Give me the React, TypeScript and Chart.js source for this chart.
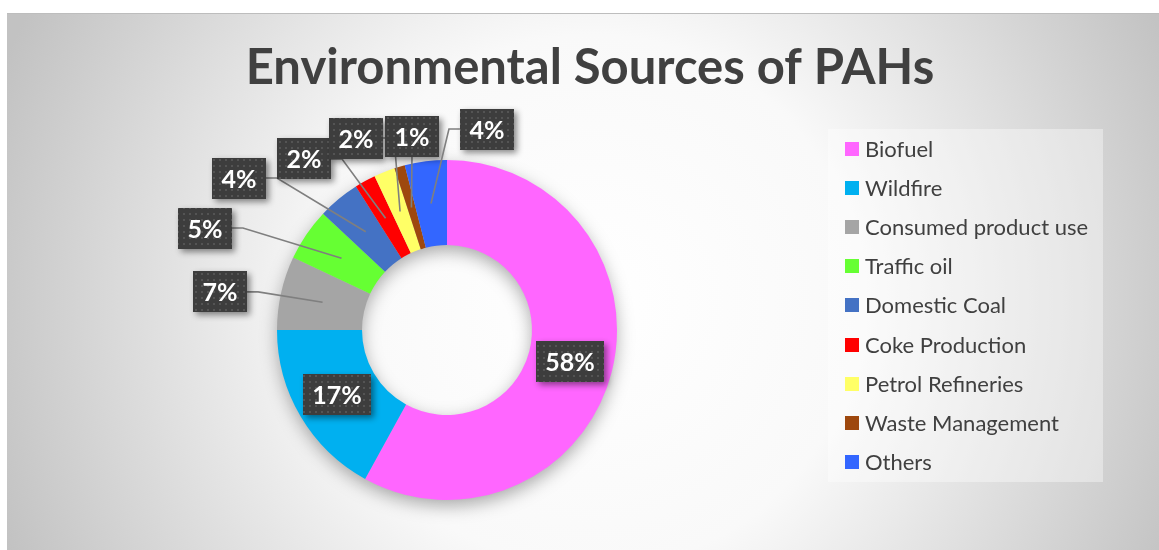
import React, { useEffect, useRef } from "react";
import { Chart, registerables } from "chart.js";

Chart.register(...registerables);

const chartTitle = "Environmental Sources of PAHs";
const categories = [
  "Biofuel",
  "Wildfire",
  "Consumed product use",
  "Traffic oil",
  "Domestic Coal",
  "Coke Production",
  "Petrol Refineries",
  "Waste Management",
  "Others",
];
const shares = [58, 17, 7, 5, 4, 2, 2, 1, 4];
const sliceColors = [
  "#FF66FF",
  "#00B0F0",
  "#A5A5A5",
  "#66FF33",
  "#4472C4",
  "#FF0000",
  "#FFFF66",
  "#9E480E",
  "#3366FF",
];
// label box centre relative to donut centre, in units of outer radius (null = inside the slice)
const labelPlacement: ([number, number] | null)[] = [
  null,
  null,
  [-1.335, -0.224],
  [-1.424, -0.6],
  [-1.224, -0.894],
  [-0.841, -1.006],
  [-0.535, -1.129],
  [-0.206, -1.141],
  [0.235, -1.182],
];

const W = 1152;
const H = 537;
const TEXT = "#404040";

function makePattern(ctx: CanvasRenderingContext2D) {
  const c = document.createElement("canvas");
  c.width = 6;
  c.height = 6;
  const p = c.getContext("2d")!;
  p.fillStyle = "#3d3d3d";
  p.fillRect(0, 0, 6, 6);
  p.fillStyle = "#545454";
  p.fillRect(2, 2, 2, 2);
  return ctx.createPattern(c, "repeat")!;
}

const backgroundPlugin = {
  id: "bg",
  beforeDraw(chart: any) {
    const ctx = chart.ctx as CanvasRenderingContext2D;
    const w = chart.width;
    const h = chart.height;
    ctx.save();
    const r = Math.hypot(w / 2, h / 2);
    const g = ctx.createRadialGradient(w / 2 + 10, h / 2 + 20, 0, w / 2 + 10, h / 2 + 20, r);
    g.addColorStop(0, "#ffffff");
    g.addColorStop(0.42, "#f9f9f9");
    g.addColorStop(1, "#c2c2c2");
    ctx.fillStyle = g;
    ctx.fillRect(0, 0, w, h);
    ctx.fillStyle = "#bdbdbd";
    ctx.fillRect(0, 0, w, 1);
    ctx.restore();
  },
};

const ringShadowPlugin = {
  id: "ringShadow",
  beforeDatasetsDraw(chart: any) {
    const meta = chart.getDatasetMeta(0);
    const el = meta.data[0];
    if (!el) return;
    const { x, y, innerRadius, outerRadius } = el.getProps(["x", "y", "innerRadius", "outerRadius"], true);
    const ctx = chart.ctx as CanvasRenderingContext2D;
    ctx.save();
    ctx.shadowColor = "rgba(0,0,0,0.35)";
    ctx.shadowBlur = 18;
    ctx.shadowOffsetY = 6;
    ctx.beginPath();
    ctx.arc(x, y, outerRadius - 1, 0, Math.PI * 2);
    ctx.moveTo(x + innerRadius + 1, y);
    ctx.arc(x, y, innerRadius + 1, 0, Math.PI * 2, true);
    ctx.fillStyle = "#bbbbbb";
    ctx.fill("evenodd");
    ctx.restore();
  },
};

const labelPlugin = {
  id: "sliceLabels",
  afterDatasetsDraw(chart: any) {
    const ctx = chart.ctx as CanvasRenderingContext2D;
    const meta = chart.getDatasetMeta(0);
    const values: number[] = chart.data.datasets[0].data;
    const total = values.reduce((a, b) => a + b, 0);
    const pattern = makePattern(ctx);
    meta.data.forEach((el: any, i: number) => {
      const { x, y, startAngle, endAngle, innerRadius, outerRadius } = el.getProps(
        ["x", "y", "startAngle", "endAngle", "innerRadius", "outerRadius"],
        true
      );
      const mid = (startAngle + endAngle) / 2;
      const rc = (innerRadius + outerRadius) / 2;
      const cx = x + Math.cos(mid) * rc;
      const cy = y + Math.sin(mid) * rc;
      const text = Math.round((values[i] / total) * 100) + "%";
      ctx.save();
      ctx.font = "bold 25px Lato";
      const tw = ctx.measureText(text).width;
      const bw = Math.round(tw + 19);
      const bh = 41;
      const p = labelPlacement[i];
      let bx = cx;
      let by = cy;
      if (p) {
        bx = x + p[0] * outerRadius;
        by = y + p[1] * outerRadius;
        const left = bx - bw / 2;
        const right = bx + bw / 2;
        ctx.strokeStyle = "#7f7f7f";
        ctx.lineWidth = 1.6;
        ctx.beginPath();
        if (cx < left) {
          ctx.moveTo(left, by);
          ctx.lineTo(left - 11, by);
        } else if (cx > right) {
          ctx.moveTo(right, by);
          ctx.lineTo(right + 11, by);
        } else {
          ctx.moveTo(bx, by + bh / 2);
        }
        ctx.lineTo(cx, cy);
        ctx.stroke();
      }
      const left = Math.round(bx - bw / 2);
      const top = Math.round(by - bh / 2);
      ctx.shadowColor = "rgba(0,0,0,0.45)";
      ctx.shadowBlur = 6;
      ctx.shadowOffsetX = 3;
      ctx.shadowOffsetY = 3;
      ctx.fillStyle = pattern;
      ctx.fillRect(left, top, bw, bh);
      ctx.shadowColor = "transparent";
      ctx.fillStyle = "#ffffff";
      ctx.textAlign = "center";
      ctx.textBaseline = "middle";
      ctx.fillText(text, left + bw / 2, top + bh / 2 + 1);
      ctx.restore();
    });
  },
};

const legendPlugin = {
  id: "customLegend",
  afterDraw(chart: any) {
    const ctx = chart.ctx as CanvasRenderingContext2D;
    const labels: string[] = chart.data.labels;
    const colors: string[] = chart.data.datasets[0].backgroundColor;
    const bx = 821;
    const by = 116;
    const bw = 275;
    const bh = 353;
    ctx.save();
    ctx.fillStyle = "rgba(255,255,255,0.38)";
    ctx.fillRect(bx, by, bw, bh);
    ctx.font = "22px Lato";
    ctx.textBaseline = "middle";
    ctx.textAlign = "left";
    labels.forEach((lab, i) => {
      const cy = 136 + i * 39.1;
      ctx.fillStyle = colors[i];
      ctx.fillRect(838, Math.round(cy - 7), 14, 14);
      ctx.fillStyle = TEXT;
      ctx.fillText(lab, 858, cy + 1);
    });
    ctx.restore();
  },
};

const titlePlugin = {
  id: "customTitle",
  afterDraw(chart: any) {
    const ctx = chart.ctx as CanvasRenderingContext2D;
    ctx.save();
    ctx.font = "bold 49px Lato";
    ctx.fillStyle = TEXT;
    ctx.textAlign = "center";
    ctx.textBaseline = "alphabetic";
    ctx.fillText(chartTitle, chart.width / 2 + 7, 71);
    ctx.restore();
  },
};

export default function App() {
  const ref = useRef<HTMLCanvasElement>(null);
  useEffect(() => {
    if (!ref.current) return;
    const chart = new Chart(ref.current, {
      type: "doughnut",
      data: {
        labels: categories,
        datasets: [
          {
            data: shares,
            backgroundColor: sliceColors,
            borderWidth: 0,
          },
        ],
      },
      options: {
        responsive: false,
        animation: false,
        cutout: "50%",
        events: [],
        layout: { padding: { left: 270, right: W - 610, top: 147, bottom: H - 487 } },
        plugins: {
          legend: { display: false },
          title: { display: false },
          tooltip: { enabled: false },
        },
      },
      plugins: [backgroundPlugin, ringShadowPlugin, labelPlugin, legendPlugin, titlePlugin],
    } as any);
    return () => chart.destroy();
  }, []);
  return (
    <div style={{ position: "absolute", left: 7, top: 13, width: W, height: H }}>
      <canvas ref={ref} width={W} height={H} style={{ display: "block", width: W, height: H }} />
    </div>
  );
}
